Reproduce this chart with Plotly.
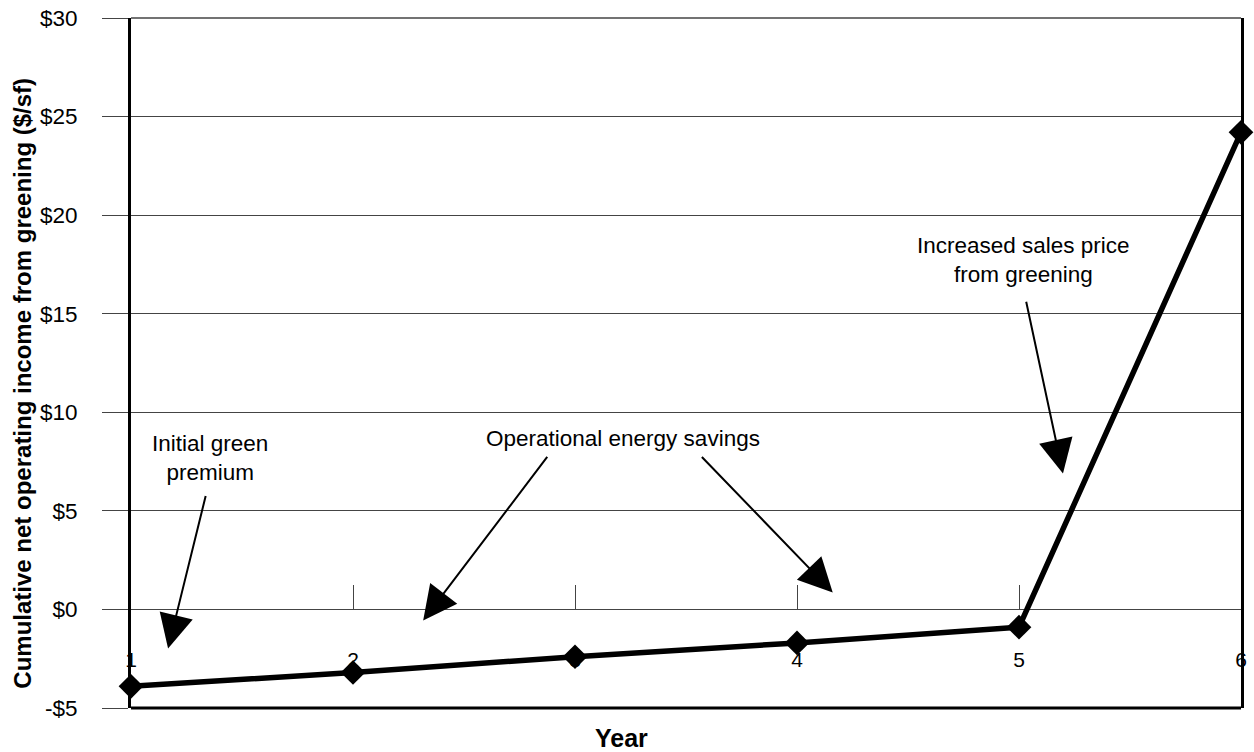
import plotly.graph_objects as go

# Cumulative net operating income per square foot, by year
years = [1, 2, 3, 4, 5, 6]
year_labels = ["1", "2", "3", "4", "5", "6"]
cumulative_noi = [-3.9, -3.2, -2.4, -1.7, -0.9, 24.2]

y_ticks = [-5, 0, 5, 10, 15, 20, 25, 30]
y_tick_labels = ["-$5", "$0", "$5", "$10", "$15", "$20", "$25", "$30"]

FONT = "Liberation Sans, Arial, sans-serif"
Y_MIN, Y_MAX = -5, 30

fig = go.Figure()
fig.add_trace(go.Scatter(
    x=years, y=cumulative_noi, mode="lines+markers",
    line=dict(color="black", width=5.5),
    marker=dict(symbol="diamond", size=19, color="black"),
    cliponaxis=False, showlegend=False, hoverinfo="skip",
))

# text labels placed in the plot
notes = [
    dict(x=1.356, y=7.66, text="Initial green<br>premium"),
    dict(x=3.214, y=8.68, text="Operational energy savings"),
    dict(x=5.022, y=17.7, text="Increased sales price<br>from greening"),
]
for n in notes:
    fig.add_annotation(x=n["x"], y=n["y"], text=n["text"], showarrow=False,
                       font=dict(family=FONT, size=22.5, color="black"),
                       xanchor="center", yanchor="middle")

# arrows: (tail x, tail y) -> (head x, head y)
arrows = [
    ((1.338, 5.83), (1.167, -1.98)),
    ((2.880, 7.81), (2.316, -0.56)),
    ((3.565, 7.81), (4.161, 0.86)),
    ((5.031, 15.68), (5.198, 6.90)),
]
for (tx, ty), (hx, hy) in arrows:
    fig.add_annotation(x=hx, y=hy, ax=tx, ay=ty, xref="x", yref="y",
                       axref="x", ayref="y", text="", showarrow=True,
                       arrowhead=2, arrowsize=3.4, arrowwidth=2,
                       arrowcolor="black")

# axis titles
fig.add_annotation(x=-0.0985, y=0.471, xref="paper", yref="paper",
                   text="<b>Cumulative net operating income from greening ($/sf)</b>",
                   textangle=-90, showarrow=False,
                   xanchor="center", yanchor="middle",
                   font=dict(family=FONT, size=24, color="black"))
fig.add_annotation(x=0.442, y=-0.0435, xref="paper", yref="paper",
                   text="<b>Year</b>", showarrow=False,
                   xanchor="center", yanchor="middle",
                   font=dict(family=FONT, size=25, color="black"))

# bottom and top edges of the plot frame
fig.add_shape(type="line", xref="paper", yref="paper", x0=0, x1=1, y0=0, y1=0,
              line=dict(color="black", width=3))
fig.add_shape(type="line", xref="paper", yref="paper", x0=0, x1=1, y0=1, y1=1,
              line=dict(color="#444", width=1.5))

fig.update_layout(
    width=1254, height=752,
    margin=dict(l=131, r=13, t=18, b=44, autoexpand=False),
    paper_bgcolor="white", plot_bgcolor="white",
    font=dict(family=FONT, color="black"),
    xaxis=dict(
        range=[1, 6], tickvals=years, ticktext=year_labels,
        anchor="free", position=(0 - Y_MIN) / (Y_MAX - Y_MIN),
        ticks="inside", ticklen=24, tickwidth=1.2, tickcolor="#444",
        ticklabelstandoff=36, tickfont=dict(size=21),
        showgrid=False, showline=False, zeroline=False, automargin=False,
    ),
    yaxis=dict(
        range=[Y_MIN, Y_MAX], tickvals=y_ticks, ticktext=y_tick_labels,
        ticks="outside", ticklen=26, tickwidth=1.3, tickcolor="#444",
        ticklabelstandoff=20, tickfont=dict(size=22.5),
        showgrid=True, gridcolor="#444", gridwidth=1.3,
        showline=True, linecolor="black", linewidth=3, mirror=True,
        zeroline=False, automargin=False,
    ),
)

fig.write_html("out.html")
